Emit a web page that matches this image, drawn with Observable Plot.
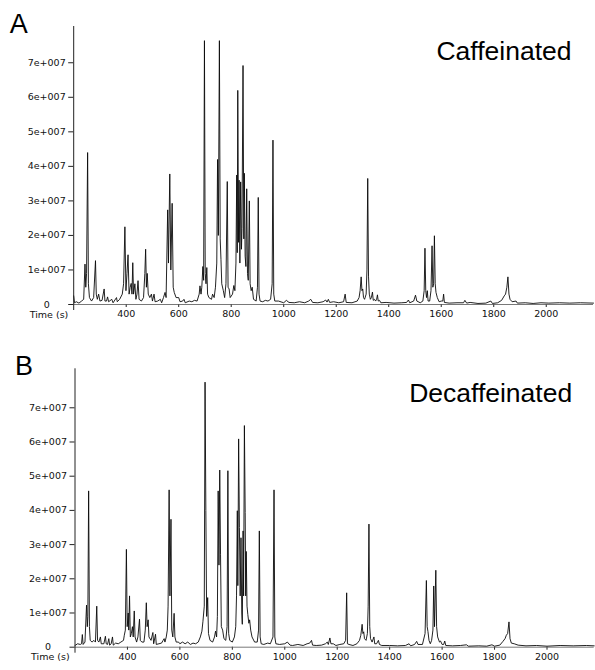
<!DOCTYPE html>
<html>
<head>
<meta charset="utf-8">
<script src="https://cdn.jsdelivr.net/npm/d3@7"></script>
<script src="https://cdn.jsdelivr.net/npm/@observablehq/plot@0.6"></script>
<style>
  html, body { margin: 0; padding: 0; background: #fff; }
  #chart { width: 595px; height: 670px; }
  #chart svg { display: block; }
</style>
</head>
<body>
<div id="chart"></div>
<script>
// Retention time (s) and intensity (x 1e7 counts)
const timeA = [200,203,210,220,230,238,243,246,249,253,256,260,268,276,283,286,290,295,300,308,316,319,325,329,333,345,350,363,366,375,385,390,395,399,403,407,411,415,419,422,425,428,433,437,441,445,449,458,466,471,474,477,480,484,490,496,500,506,510,520,530,535,542,548,552,558,561,566,570,575,579,583,590,600,605,615,620,625,640,650,660,670,678,681,685,688,692,695,698,701,704,707,710,715,725,729,735,740,745,748,751,755,758,761,764,770,775,780,785,788,792,796,805,810,814,818,821,823,825,828,830,833,836,839,841,845,848,850,853,856,859,862,865,869,872,876,880,885,895,900,903,906,910,920,930,940,950,956,959,962,966,980,1000,1010,1020,1040,1060,1080,1095,1103,1110,1130,1150,1160,1165,1170,1175,1190,1210,1228,1234,1238,1260,1280,1287,1291,1295,1298,1301,1304,1308,1314,1317,1320,1323,1326,1330,1334,1338,1341,1346,1350,1354,1357,1360,1365,1370,1390,1420,1450,1468,1475,1480,1495,1502,1507,1520,1530,1535,1538,1541,1544,1547,1550,1556,1561,1565,1568,1571,1574,1577,1580,1585,1592,1600,1606,1609,1612,1630,1660,1685,1690,1697,1710,1740,1770,1789,1795,1815,1830,1840,1845,1850,1854,1858,1862,1870,1885,1890,1920,1950,1980,2010,2050,2090,2130,2180];
const intensityA = [0.25,0.05,0.08,0.04,0.1,0.15,1.17,0.5,0.9,4.4,0.6,0.2,0.1,0.2,1.27,0.3,0.15,0.3,0.1,0.12,0.45,0.1,0.1,0.22,0.08,0.15,0.05,0.2,0.08,0.15,0.3,0.6,2.25,0.4,0.9,1.44,0.3,0.5,0.61,0.3,1.21,0.3,0.6,0.15,0.3,0.69,0.15,0.1,0.2,0.9,1.6,0.5,0.9,0.3,0.2,0.3,0.1,0.3,0.08,0.1,0.15,0.05,0.2,0.35,0.2,2.74,1.2,3.78,1.0,2.93,0.5,0.35,0.2,0.2,0.08,0.1,0.15,0.05,0.1,0.08,0.12,0.1,0.3,0.54,0.3,0.5,1.1,0.7,7.64,0.9,0.6,1.07,0.3,0.2,0.15,0.3,0.2,0.5,1.2,4.2,2.0,7.64,1.9,1.3,0.6,0.4,0.2,0.6,3.56,0.5,0.45,0.2,0.3,0.55,0.4,1.2,3.75,1.5,6.2,1.8,3.6,1.2,3.55,1.6,2.2,6.92,1.9,3.8,1.4,1.1,3.35,0.9,0.7,3.0,0.6,0.4,0.5,0.15,0.1,0.5,3.1,0.3,0.1,0.08,0.12,0.1,0.15,0.6,4.76,0.3,0.1,0.1,0.05,0.12,0.06,0.05,0.08,0.05,0.1,0.15,0.06,0.05,0.08,0.13,0.07,0.15,0.06,0.08,0.05,0.08,0.3,0.06,0.05,0.1,0.2,0.4,0.8,0.4,0.45,0.2,0.15,0.3,1.0,3.65,0.8,0.3,0.15,0.2,0.36,0.12,0.15,0.1,0.15,0.28,0.1,0.12,0.05,0.06,0.04,0.05,0.06,0.13,0.05,0.1,0.27,0.1,0.05,0.1,0.4,1.63,0.4,0.2,0.4,0.1,0.1,0.4,1.7,0.5,0.6,1.99,0.6,0.35,0.2,0.08,0.1,0.1,0.3,0.06,0.04,0.05,0.05,0.12,0.04,0.06,0.03,0.04,0.1,0.03,0.05,0.12,0.25,0.3,0.5,0.8,0.3,0.15,0.08,0.1,0.04,0.05,0.03,0.05,0.04,0.05,0.04,0.05,0.04];

const timeB = [200,210,220,225,228,231,238,244,247,249,252,255,258,265,272,278,283,286,291,297,300,310,316,319,324,329,332,338,343,346,355,365,375,385,388,392,396,399,403,405,408,411,415,419,422,426,429,435,440,446,449,455,463,468,472,475,479,482,490,497,500,507,510,520,530,536,540,543,548,552,555,559,562,566,569,573,578,581,586,595,600,610,620,630,640,650,660,670,678,684,688,693,696,699,702,706,709,715,725,732,736,740,743,746,749,752,755,758,763,768,775,780,783,786,790,800,808,813,816,819,821,824,827,830,833,836,838,841,843,846,849,851,853,856,859,863,866,870,875,885,895,900,903,906,910,920,935,945,955,959,962,966,980,1000,1010,1020,1030,1050,1070,1085,1095,1102,1106,1120,1140,1155,1162,1166,1172,1176,1185,1195,1210,1225,1232,1236,1239,1245,1260,1275,1285,1290,1295,1298,1301,1304,1310,1315,1318,1321,1324,1327,1333,1340,1343,1350,1357,1361,1370,1400,1430,1460,1474,1480,1495,1503,1508,1525,1535,1540,1543,1546,1550,1555,1560,1565,1568,1571,1576,1579,1583,1590,1594,1600,1606,1610,1614,1640,1670,1693,1700,1740,1770,1790,1800,1820,1832,1840,1845,1850,1855,1859,1864,1875,1890,1920,1960,2000,2050,2100,2150,2180];
const intensityB = [0.05,0.1,0.08,0.1,0.37,0.08,0.15,1.23,0.6,0.9,4.57,0.6,0.2,0.15,0.2,0.15,1.2,0.2,0.15,0.3,0.1,0.1,0.32,0.1,0.08,0.25,0.06,0.1,0.3,0.06,0.12,0.1,0.15,0.2,0.35,0.5,2.86,0.6,1.0,0.5,1.5,0.3,0.4,0.6,0.3,1.06,0.3,0.15,0.3,0.82,0.2,0.15,0.15,0.5,1.3,0.6,0.8,0.3,0.2,0.43,0.1,0.38,0.08,0.1,0.12,0.2,0.25,0.15,0.3,0.5,1.2,4.6,1.5,3.74,0.5,0.3,0.99,0.3,0.15,0.15,0.1,0.15,0.1,0.15,0.08,0.12,0.1,0.15,0.3,0.47,0.76,1.2,7.75,4.0,0.9,1.45,0.4,0.2,0.15,0.3,0.47,0.3,0.9,4.57,2.4,5.18,2.7,0.6,0.5,0.25,0.2,0.6,5.16,0.4,0.2,0.15,0.3,0.6,1.5,3.99,1.8,6.09,3.5,1.5,3.2,1.0,0.67,3.4,1.5,6.48,3.94,1.5,2.8,1.2,0.96,0.7,0.8,0.5,0.3,0.15,0.15,0.5,3.4,0.3,0.1,0.08,0.12,0.1,0.3,4.6,0.3,0.1,0.08,0.1,0.15,0.06,0.05,0.08,0.05,0.1,0.12,0.2,0.06,0.05,0.06,0.1,0.15,0.08,0.27,0.1,0.1,0.05,0.08,0.1,0.2,1.59,0.1,0.08,0.05,0.1,0.2,0.35,0.67,0.4,0.45,0.25,0.2,0.4,1.2,3.6,0.6,0.25,0.15,0.3,0.1,0.1,0.2,0.08,0.05,0.05,0.04,0.05,0.1,0.04,0.08,0.17,0.08,0.08,0.4,1.95,0.6,0.46,0.2,0.1,0.2,0.5,1.79,0.6,2.25,0.6,0.3,0.15,0.18,0.08,0.08,0.18,0.05,0.04,0.05,0.07,0.03,0.04,0.03,0.07,0.03,0.06,0.17,0.25,0.35,0.4,0.74,0.25,0.12,0.1,0.06,0.04,0.05,0.03,0.05,0.04,0.05,0.04];

const xTicks = [400, 600, 800, 1000, 1200, 1400, 1600, 1800, 2000];
const xTickLabels = ["400", "600", "800", "1000", "1200", "1400", "1600", "1800", "2000"];
const yTicks = [0, 1e7, 2e7, 3e7, 4e7, 5e7, 6e7, 7e7];
const yTickLabels = ["0", "1e+007", "2e+007", "3e+007", "4e+007", "5e+007", "6e+007", "7e+007"];
const panelLetters = ["A", "B"];
const panelTitles = ["Caffeinated", "Decaffeinated"];

const SCALE = 1e7;
const toRows = (ts, vs) => ts.map((t, i) => ({time: t, intensity: vs[i] * SCALE}));
const FS = 9.5;

function panel({rows, letter, title, letterDx, height, marginTop, marginBottom, marginLeft, marginRight, yMax}) {
  return Plot.plot({
    width: 595,
    height,
    marginTop,
    marginBottom,
    marginLeft,
    marginRight,
    style: {fontFamily: "DejaVu Sans", fontSize: FS + "px", color: "#000", background: "#fff", overflow: "visible"},
    x: {domain: [200, 2180]},
    y: {domain: [0, yMax]},
    marks: [
      Plot.axisY({
        ticks: yTicks,
        tickFormat: d => yTickLabels[yTicks.indexOf(d)],
        tickSize: 5,
        tickPadding: 22,
        textAnchor: "middle",
        fontSize: FS,
        fontFamily: "DejaVu Sans",
        stroke: "#222",
        fill: "#111",
        label: null
      }),
      Plot.axisX({
        ticks: xTicks,
        tickFormat: d => xTickLabels[xTicks.indexOf(d)],
        tickSize: 3,
        tickPadding: 3,
        fontSize: FS,
        fontFamily: "DejaVu Sans",
        stroke: "#222",
        fill: "#111",
        label: null
      }),
      Plot.ruleY([0], {stroke: "#555", strokeWidth: 0.8}),
      Plot.line(rows, {x: "time", y: "intensity", stroke: "#0a0a0a", strokeWidth: 0.9}),
      Plot.ruleX([200], {stroke: "#222", strokeWidth: 1, insetBottom: -6}),
      Plot.text(["Time (s)"], {frameAnchor: "bottom-left", textAnchor: "start", lineAnchor: "bottom", dx: -44, dy: 13, fontSize: FS, fontFamily: "DejaVu Sans", fill: "#111"}),
      Plot.text([letter], {frameAnchor: "top-left", textAnchor: "start", lineAnchor: "bottom", dx: letterDx, dy: 6, fontSize: 27, fontFamily: "Liberation Sans", fill: "#000"}),
      Plot.text([title], {frameAnchor: "top-right", textAnchor: "end", lineAnchor: "bottom", dx: -22, dy: 33.5, fontSize: 26.5, fontFamily: "Liberation Sans", fill: "#000"})
    ]
  });
}

const chart = document.getElementById("chart");
chart.appendChild(panel({
  rows: toRows(timeA, intensityA),
  letter: panelLetters[0], title: panelTitles[0], letterDx: -64,
  height: 330, marginTop: 26, marginBottom: 26, marginLeft: 73.2, marginRight: 2, yMax: 8.05e7
}));
chart.appendChild(panel({
  rows: toRows(timeB, intensityB),
  letter: panelLetters[1], title: panelTitles[1], letterDx: -60,
  height: 340, marginTop: 38.3, marginBottom: 23.3, marginLeft: 74.5, marginRight: 1.3, yMax: 8.14e7
}));
</script>
</body>
</html>
